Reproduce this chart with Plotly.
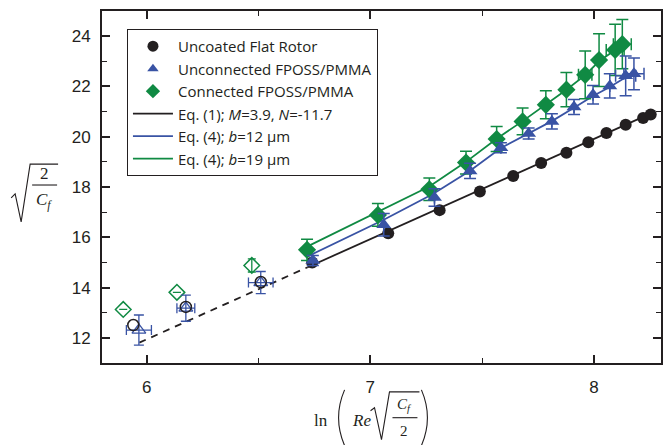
import plotly.graph_objects as go

# ---------------- data ----------------
flat_x = [6.74, 7.08, 7.31, 7.49, 7.639, 7.764, 7.877, 7.975, 8.056, 8.142, 8.22, 8.254]
flat_y = [15.0, 16.16, 17.08, 17.82, 18.44, 18.95, 19.36, 19.78, 20.15, 20.48, 20.74, 20.88]

unconn_x = [6.743, 7.06, 7.287, 7.446, 7.584, 7.708, 7.812, 7.911, 7.996, 8.071, 8.142, 8.179]
unconn_y = [15.08, 16.5, 17.58, 18.64, 19.56, 20.13, 20.61, 21.18, 21.67, 22.02, 22.42, 22.5]
unconn_ey = [0.2, 0.45, 0.35, 0.3, 0.2, 0.22, 0.3, 0.3, 0.37, 0.48, 0.79, 0.63]
unconn_ex = [0, 0, 0, 0, 0, 0, 0, 0, 0, 0, 0.045, 0.045]

conn_x = [6.717, 7.034, 7.264, 7.428, 7.565, 7.681, 7.785, 7.877, 7.961, 8.023, 8.095, 8.127]
conn_y = [15.50, 16.89, 17.91, 18.97, 19.91, 20.61, 21.27, 21.87, 22.46, 23.05, 23.45, 23.68]
conn_ey = [0.42, 0.45, 0.45, 0.45, 0.5, 0.53, 0.56, 0.68, 0.95, 1.05, 1.02, 0.98]
conn_ex = [0, 0, 0, 0, 0, 0, 0, 0, 0.03, 0, 0.04, 0.04]

flat_open_x = [5.94, 6.175, 6.51]
flat_open_y = [12.51, 13.23, 14.22]
unconn_open_x = [5.965, 6.175, 6.51]
unconn_open_y = [12.31, 13.18, 14.2]
unconn_open_ey = [0.6, 0.52, 0.44]
unconn_open_ex = [0.056, 0.04, 0.055]
conn_open_x = [5.895, 6.135, 6.47]
conn_open_y = [13.13, 13.81, 14.88]
conn_open_ey = [0, 0, 0.26]

fit_x = [5.967, 6.72, 8.27]
fit_y = [11.81, 14.81, 20.99]

b12_x = [6.715, 7.06, 7.28, 7.446, 7.584, 7.708, 7.812, 7.911, 7.996, 8.071, 8.142, 8.19]
b12_y = [15.22, 16.7, 17.72, 18.65, 19.55, 20.12, 20.62, 21.15, 21.62, 21.98, 22.38, 22.62]

b19_x = [6.715, 7.034, 7.264, 7.428, 7.565, 7.681, 7.785, 7.877, 7.961, 8.023, 8.095, 8.14]
b19_y = [15.62, 17.02, 18.02, 19.0, 19.92, 20.62, 21.27, 21.87, 22.45, 23.0, 23.45, 23.78]

x_ticks = [6, 7, 8]
y_ticks = [12, 14, 16, 18, 20, 22, 24]

legend_names = ["Uncoated Flat Rotor", "Unconnected FPOSS/PMMA", "Connected FPOSS/PMMA",
                "Eq. (1); <i>M</i>=3.9, <i>N</i>=-11.7",
                "Eq. (4); <i>b</i>=12 μm", "Eq. (4); <i>b</i>=19 μm"]

BLACK = "#231f20"
BLUE = "#3953a4"
GREEN = "#108a43"

W, H = 672, 445
L, R, T, B = 102, 10, 9, 82
PW, PH = W - L - R, H - T - B


def px(x):
    return (x - L) / PW


def py(y):
    return (H - B - y) / PH


fig = go.Figure()

# fit lines
fig.add_trace(go.Scatter(x=fit_x[:2], y=fit_y[:2], mode="lines",
                         line=dict(color=BLACK, width=1.8, dash="7px,6px"),
                         showlegend=False, hoverinfo="skip"))
fig.add_trace(go.Scatter(x=fit_x[1:], y=fit_y[1:], mode="lines",
                         line=dict(color=BLACK, width=1.8), showlegend=False))
fig.add_trace(go.Scatter(x=b12_x, y=b12_y, mode="lines",
                         line=dict(color=BLUE, width=1.8), showlegend=False))
fig.add_trace(go.Scatter(x=b19_x, y=b19_y, mode="lines",
                         line=dict(color=GREEN, width=1.8), showlegend=False))

# open (excluded) markers
fig.add_trace(go.Scatter(x=conn_open_x, y=conn_open_y, mode="markers",
                         marker=dict(symbol="diamond-open", size=12, color=GREEN, line=dict(width=1.5)),
                         error_y=dict(type="data", array=conn_open_ey, color=GREEN, thickness=1.3, width=4),
                         showlegend=False))
fig.add_trace(go.Scatter(x=unconn_open_x, y=unconn_open_y, mode="markers",
                         marker=dict(symbol="triangle-up-open", size=12, color=BLUE, line=dict(width=1.3)),
                         error_y=dict(type="data", array=unconn_open_ey, color=BLUE, thickness=1.3, width=5),
                         error_x=dict(type="data", array=unconn_open_ex, color=BLUE, thickness=1.3, width=5),
                         showlegend=False))
fig.add_trace(go.Scatter(x=flat_open_x, y=flat_open_y, mode="markers",
                         marker=dict(symbol="circle-open", size=11, color=BLACK, line=dict(width=1.5)),
                         showlegend=False))

# filled markers
fig.add_trace(go.Scatter(x=flat_x, y=flat_y, mode="markers",
                         marker=dict(symbol="circle", size=12, color=BLACK),
                         showlegend=False))
fig.add_trace(go.Scatter(x=conn_x, y=conn_y, mode="markers",
                         marker=dict(symbol="diamond", size=14, color=GREEN),
                         error_y=dict(type="data", array=conn_ey, color=GREEN, thickness=1.5, width=6),
                         error_x=dict(type="data", array=conn_ex, color=GREEN, thickness=1.5, width=6),
                         showlegend=False))
fig.add_trace(go.Scatter(x=unconn_x, y=unconn_y, mode="markers",
                         marker=dict(symbol="triangle-up", size=13, color=BLUE),
                         error_y=dict(type="data", array=unconn_ey, color=BLUE, thickness=1.5, width=6),
                         error_x=dict(type="data", array=unconn_ex, color=BLUE, thickness=1.5, width=6),
                         showlegend=False))

# legend entries
fig.add_trace(go.Scatter(x=[None], y=[None], mode="markers", name=legend_names[0],
                         marker=dict(symbol="circle", size=11, color=BLACK)))
fig.add_trace(go.Scatter(x=[None], y=[None], mode="markers", name=legend_names[1],
                         marker=dict(symbol="triangle-up", size=10, color=BLUE)))
fig.add_trace(go.Scatter(x=[None], y=[None], mode="markers", name=legend_names[2],
                         marker=dict(symbol="diamond", size=11, color=GREEN)))
fig.add_trace(go.Scatter(x=[None], y=[None], mode="lines", name=legend_names[3],
                         line=dict(color=BLACK, width=1.8)))
fig.add_trace(go.Scatter(x=[None], y=[None], mode="lines", name=legend_names[4],
                         line=dict(color=BLUE, width=1.8)))
fig.add_trace(go.Scatter(x=[None], y=[None], mode="lines", name=legend_names[5],
                         line=dict(color=GREEN, width=1.8)))

axis_common = dict(showline=True, linecolor=BLACK, linewidth=2, mirror="ticks",
                   ticks="inside", ticklen=8, tickwidth=1.6, tickcolor=BLACK,
                   showgrid=False, zeroline=False,
                   tickfont=dict(family="Liberation Sans, Arial, sans-serif", size=17, color=BLACK))

fig.update_xaxes(range=[5.8, 8.3], tickvals=x_ticks, ticktext=[str(v) for v in x_ticks],
                 minor=dict(dtick=0.5, tick0=6, ticks="inside", ticklen=5, tickwidth=1.4,
                            tickcolor=BLACK, showgrid=False),
                 ticklabelstandoff=8, **axis_common)
fig.update_yaxes(range=[11, 25], tickvals=y_ticks, ticktext=[str(v) for v in y_ticks],
                 minor=dict(dtick=1, tick0=11, ticks="inside", ticklen=5, tickwidth=1.4,
                            tickcolor=BLACK, showgrid=False),
                 ticklabelstandoff=6, **axis_common)

# math-like axis titles built from text + shapes
SERIF = "Liberation Serif, DejaVu Serif, serif"
annotations = [
    # y title: sqrt(2 / C_f)
    dict(x=px(44), y=py(172), text="2", font=dict(family=SERIF, size=17, color=BLACK)),
    dict(x=px(44), y=py(200), text="<i>C</i><sub><i>f</i></sub>", font=dict(family=SERIF, size=17, color=BLACK)),
    # x title: ln( Re sqrt(C_f / 2) )
    dict(x=px(321), y=py(421), text="ln", font=dict(family=SERIF, size=17, color=BLACK)),
    dict(x=px(362), y=py(421), text="<i>Re</i>", font=dict(family=SERIF, size=17, color=BLACK)),
    dict(x=px(405), y=py(405), text="<i>C</i><sub><i>f</i></sub>", font=dict(family=SERIF, size=15, color=BLACK)),
    dict(x=px(405), y=py(431), text="2", font=dict(family=SERIF, size=15, color=BLACK)),
]
for a in annotations:
    a.update(xref="paper", yref="paper", showarrow=False, xanchor="center", yanchor="middle")


def path(points):
    s = "M " + " L ".join(f"{px(a):.5f},{py(b):.5f}" for a, b in points)
    return s


shapes = [
    dict(type="path", path=path([(11, 197), (15, 193), (21, 221), (30, 163), (58, 163)])),
    dict(type="line", x0=px(32), x1=px(57), y0=py(184), y1=py(184)),
    dict(type="path", path=path([(371, 411), (375, 408), (382, 440), (390, 392), (420, 392)])),
    dict(type="line", x0=px(393), x1=px(418), y0=py(418), y1=py(418)),
    dict(type="path", path=f"M {px(345):.5f},{py(390):.5f} Q {px(333):.5f},{py(418):.5f} {px(345):.5f},{py(446):.5f}"),
    dict(type="path", path=f"M {px(422):.5f},{py(390):.5f} Q {px(434):.5f},{py(418):.5f} {px(422):.5f},{py(446):.5f}"),
]
for s in shapes:
    s.update(xref="paper", yref="paper", line=dict(color=BLACK, width=1.1))

fig.update_layout(
    width=W, height=H,
    margin=dict(l=L, r=R, t=T, b=B),
    plot_bgcolor="white", paper_bgcolor="white",
    font=dict(family="Liberation Sans, Arial, sans-serif", color=BLACK),
    legend=dict(x=px(127), y=py(27), xanchor="left", yanchor="top",
                bgcolor="white", bordercolor=BLACK, borderwidth=1,
                font=dict(family="Open Sans, Liberation Sans, sans-serif", size=15, color=BLACK),
                itemwidth=40, tracegroupgap=0),
    annotations=annotations,
    shapes=shapes,
)

fig.write_html("out.html", config={"displayModeBar": False},
               post_script="document.body.style.margin='0px';document.body.style.overflow='hidden';")
